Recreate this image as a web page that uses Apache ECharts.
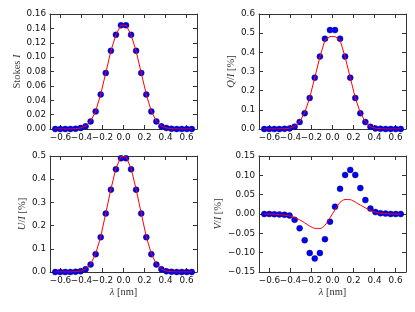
<!DOCTYPE html>
<html>
<head>
<meta charset="utf-8">
<script src="https://cdn.jsdelivr.net/npm/echarts@6/dist/echarts.min.js"></script>
<style>
html,body{margin:0;padding:0;background:#fff;}
#c{width:415px;height:312px;}
</style>
</head>
<body>
<div id="c"></div>
<script>
// wavelength samples (nm)
const lambdas = [-0.650,-0.602,-0.554,-0.506,-0.457,-0.409,-0.361,-0.313,-0.265,-0.217,-0.169,-0.120,-0.072,-0.024,
                  0.024, 0.072, 0.120, 0.169, 0.217, 0.265, 0.313, 0.361, 0.409, 0.457, 0.506, 0.554, 0.602, 0.650];
// observed (dots)
const stokesI = [0,0,0,0,0.0003,0.0014,0.0037,0.0106,0.0245,0.048,0.078,0.1087,0.131,0.1443,
                 0.1443,0.131,0.1087,0.078,0.048,0.0245,0.0106,0.0037,0.0014,0.0003,0,0,0,0];
const qOverI = [0,0,0,0,0.001,0.003,0.012,0.036,0.082,0.162,0.268,0.378,0.471,0.516,
                0.516,0.471,0.378,0.268,0.162,0.082,0.036,0.012,0.003,0.001,0,0,0,0];
const uOverI = [0,0,0,0,0.001,0.003,0.012,0.032,0.077,0.150,0.252,0.355,0.443,0.490,
                0.490,0.443,0.355,0.252,0.150,0.077,0.032,0.012,0.003,0.001,0,0,0,0];
const vOverI = [0,0,-0.0005,-0.001,-0.002,-0.004,-0.015,-0.037,-0.068,-0.101,-0.115,-0.101,-0.065,-0.020,
                0.019,0.065,0.101,0.114,0.101,0.067,0.036,0.014,0.005,0.002,0.001,0,0,0];
// model (red lines)
const stokesIModel = [0,0,0,0,0.0004,0.0015,0.0040,0.0108,0.0247,0.0482,0.0780,0.1085,0.1312,0.1445,
                      0.1445,0.1312,0.1085,0.0780,0.0482,0.0247,0.0108,0.0040,0.0015,0.0004,0,0,0,0];
const qModel = [0,0,0,0,0.001,0.004,0.013,0.038,0.085,0.163,0.268,0.376,0.464,0.482,
                0.482,0.464,0.376,0.268,0.163,0.085,0.038,0.013,0.004,0.001,0,0,0,0];
const uModel = [0,0,0,0,0.001,0.004,0.013,0.034,0.079,0.152,0.253,0.357,0.447,0.497,
                0.497,0.447,0.357,0.253,0.152,0.079,0.034,0.013,0.004,0.001,0,0,0,0];
const vModel = [0,0,-0.0005,-0.0015,-0.003,-0.005,-0.009,-0.015,-0.023,-0.031,-0.037,-0.0375,-0.029,-0.010,
                0.011,0.030,0.0375,0.037,0.031,0.023,0.016,0.0095,0.0045,0.002,0.001,0.0003,0,0];
// ticks
const xTicks = [-0.6,-0.4,-0.2,0.0,0.2,0.4,0.6];
const xRange = [-0.7, 0.7];
const yI = {min:0, max:0.16, step:0.02, dec:2};
const yQ = {min:0, max:0.6, step:0.1, dec:1};
const yU = {min:0, max:0.5, step:0.1, dec:1};
const yV = {min:-0.15, max:0.15, step:0.05, dec:2};

const panels = [
  {grid:{left:50, top:14, width:147, height:115}, y:yI, obs:stokesI, mod:stokesIModel,
   yname:'{r|Stokes }{i|I}', ygap:21, xname:null},
  {grid:{left:259, top:14, width:147, height:115}, y:yQ, obs:qOverI, mod:qModel,
   yname:'{i|Q}{r|/}{i|I}{r| [%]}', ygap:22, xname:null},
  {grid:{left:50, top:156, width:147, height:116}, y:yU, obs:uOverI, mod:uModel,
   yname:'{i|U}{r|/}{i|I}{r| [%]}', ygap:22, xname:'{i|λ}{r| [nm]}'},
  {grid:{left:259, top:156, width:147, height:116}, y:yV, obs:vOverI, mod:vModel,
   yname:'{i|V}{r|/}{i|I}{r| [%]}', ygap:26, xname:'{i|λ}{r| [nm]}', smooth:0.3}
];

const fmt = (v, d) => {
  let s = Math.abs(v) < 1e-9 ? (0).toFixed(d) : v.toFixed(d);
  return s.replace('-', '\u2212');
};
const frame = {show:true, onZero:false, lineStyle:{color:'#333', width:1}};
const tickFont = {fontFamily:'DejaVu Sans', fontSize:8.8, color:'#111'};
const nameRich = {
  r:{fontFamily:'Liberation Serif', fontSize:10.5, color:'#333'},
  i:{fontFamily:'Liberation Serif', fontStyle:'italic', fontSize:10.5, color:'#333'}
};
const xLabelsA = xTicks.filter((v,i)=>i%2===0);
const xLabelsB = xTicks.filter((v,i)=>i%2===1);

const grids=[], xAxes=[], yAxes=[], series=[];
panels.forEach((p, gi) => {
  grids.push(Object.assign({containLabel:false}, p.grid));
  const yTicks = [];
  for (let k = 0; ; k++) {
    const v = +(p.y.min + k * p.y.step).toFixed(4);
    if (v > p.y.max + 1e-9) break;
    yTicks.push(v);
  }
  const xi = xAxes.length;
  xAxes.push({
    type:'value', gridIndex:gi, position:'bottom', min:xRange[0], max:xRange[1],
    axisLine:frame, splitLine:{show:false},
    axisTick:{show:true, inside:true, length:4, customValues:xTicks, lineStyle:{color:'#333'}},
    axisLabel:Object.assign({show:true, margin:4, customValues:xLabelsA, hideOverlap:false,
      formatter:v=>fmt(v,1)}, tickFont),
    name:p.xname || '', nameLocation:'middle', nameGap:15,
    nameTextStyle:{rich:nameRich}
  });
  xAxes.push({
    type:'value', gridIndex:gi, position:'bottom', min:xRange[0], max:xRange[1],
    axisLine:{show:false, onZero:false}, splitLine:{show:false}, axisTick:{show:false},
    axisLabel:Object.assign({show:true, margin:4, customValues:xLabelsB, hideOverlap:false,
      formatter:v=>fmt(v,1)}, tickFont)
  });
  xAxes.push({
    type:'value', gridIndex:gi, position:'top', min:xRange[0], max:xRange[1],
    axisLine:frame, splitLine:{show:false},
    axisTick:{show:true, inside:true, length:4, customValues:xTicks, lineStyle:{color:'#333'}},
    axisLabel:{show:false}
  });
  const yi = yAxes.length;
  yAxes.push({
    type:'value', gridIndex:gi, position:'left', min:p.y.min, max:p.y.max, interval:p.y.step,
    axisLine:frame, splitLine:{show:false},
    axisTick:{show:true, inside:true, length:4, customValues:yTicks, lineStyle:{color:'#333'}},
    axisLabel:Object.assign({show:true, margin:4, customValues:yTicks, hideOverlap:false,
      formatter:v=>fmt(v,p.y.dec)}, tickFont),
    name:p.yname, nameLocation:'middle', nameRotate:90, nameGap:p.ygap,
    nameTextStyle:{rich:nameRich}
  });
  yAxes.push({
    type:'value', gridIndex:gi, position:'right', min:p.y.min, max:p.y.max, interval:p.y.step,
    axisLine:frame, splitLine:{show:false},
    axisTick:{show:true, inside:true, length:4, customValues:yTicks, lineStyle:{color:'#333'}},
    axisLabel:{show:false}
  });
  series.push({
    type:'scatter', xAxisIndex:xi, yAxisIndex:yi, symbol:'circle', symbolSize:6,
    itemStyle:{color:'#0000ff', borderColor:'#000033', borderWidth:0.4, opacity:1},
    data:lambdas.map((x,i)=>[x,p.obs[i]]), z:2, silent:true
  });
  series.push({
    type:'line', xAxisIndex:xi, yAxisIndex:yi, showSymbol:false, symbol:'none',
    smooth:p.smooth || false,
    lineStyle:{color:'#ff0000', width:1},
    data:lambdas.map((x,i)=>[x,p.mod[i]]), z:3, silent:true
  });
});

const chart = echarts.init(document.getElementById('c'), null, {renderer:'canvas'});
chart.setOption({
  animation:false,
  backgroundColor:'#ffffff',
  grid:grids, xAxis:xAxes, yAxis:yAxes, series:series
});
</script>
</body>
</html>
